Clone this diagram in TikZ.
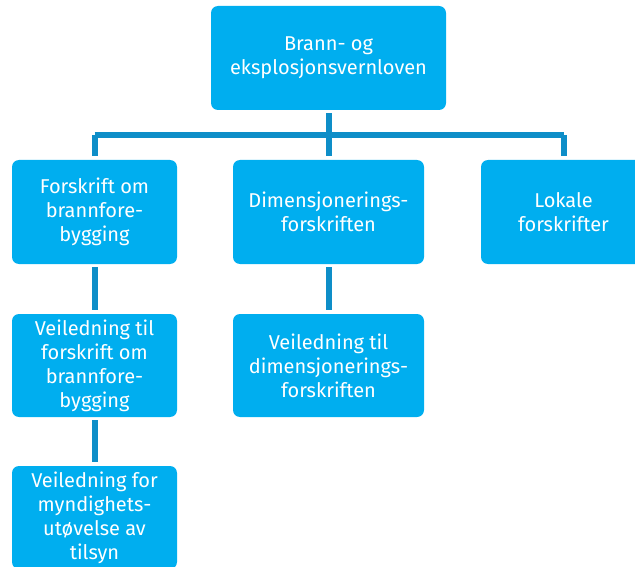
\documentclass[tikz,border=0pt]{standalone}
\usepackage{fontspec}
\setmainfont{Fira Sans}
\definecolor{boxblue}{RGB}{0,174,239}
\definecolor{lineblue}{RGB}{14,142,200}
\begin{document}
\begin{tikzpicture}[x=1pt,y=-1pt,
    box/.style={fill=boxblue,rounded corners=7pt,text=white,align=center,
      font=\fontsize{20}{24}\selectfont,inner sep=0pt,minimum height=104pt},
    link/.style={draw=lineblue,line width=6pt,shorten <=3pt,shorten >=4pt}]
  \useasboundingbox (0,0) rectangle (635,567);
  \clip (0,0) rectangle (635,567);
  % top level
  \node[box,minimum width=235pt] (lov) at (328.5,58) {Brann- og\\eksplosjonsvernloven};
  % second row
  \node[box,minimum width=165pt] (fbf) at (94.5,212) {Forskrift om\\brannfore-\\bygging};
  \node[box,minimum width=191pt] (dim) at (328.5,212) {Dimensjonerings-\\forskriften};
  \node[box,minimum width=165pt] (lok) at (563.5,212) {Lokale\\forskrifter};
  % guidance
  \node[box,minimum width=165pt,minimum height=103pt] (vfbf) at (94.5,365.5) {Veiledning til\\forskrift om\\brannfore-\\bygging};
  \node[box,minimum width=191pt,minimum height=103pt] (vdim) at (328.5,365.5) {Veiledning til\\dimensjonerings-\\forskriften};
  \node[box,minimum width=165pt,minimum height=103pt] (vmyn) at (94.5,517.5) {Veiledning for\\myndighets-\\utøvelse av\\tilsyn};
  % connectors
  \coordinate (bar) at (328.5,135);
  \draw[lineblue,line width=6pt] (fbf.north |- bar) -- (lok.north |- bar);
  \draw[link,shorten >=0pt] (lov.south) -- (bar);
  \draw[link,shorten <=0pt] (fbf.north |- bar) -- (fbf.north);
  \draw[link,shorten <=0pt] (bar) -- (dim.north);
  \draw[link,shorten <=0pt] (lok.north |- bar) -- (lok.north);
  \draw[link] (fbf) -- (vfbf);
  \draw[link] (dim) -- (vdim);
  \draw[link] (vfbf) -- (vmyn);
\end{tikzpicture}
\end{document}
